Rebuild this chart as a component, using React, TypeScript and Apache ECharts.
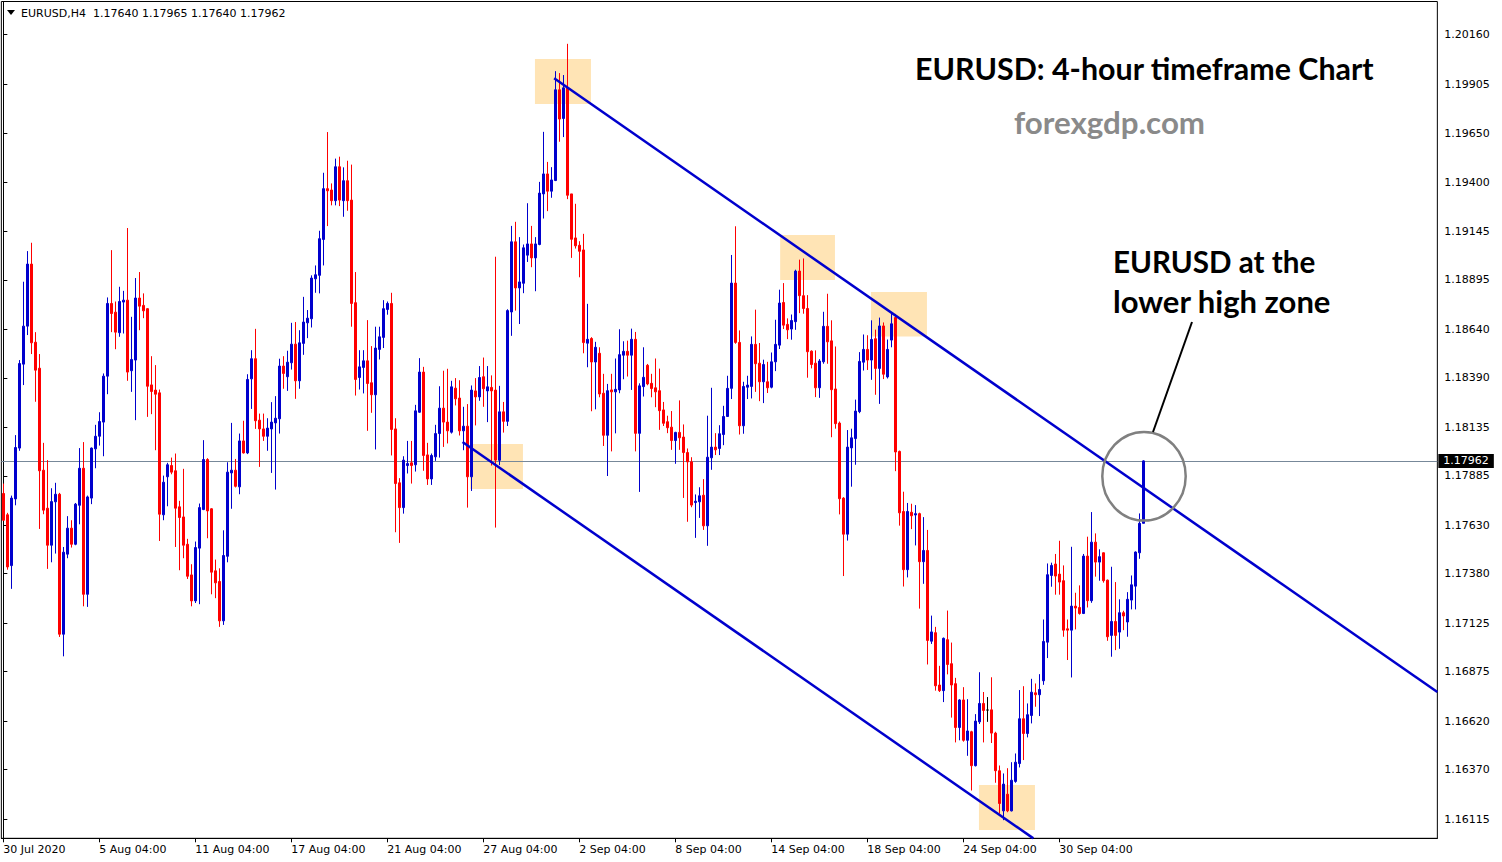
import React, { useEffect, useRef } from "react";
import * as echarts from "echarts";

// ---- OHLC values (EURUSD H4), one entry per bar ----
const opens = [
  1.17794, 1.17684, 1.17422, 1.17766, 1.18028, 1.18461, 1.18657, 1.18977, 1.18574, 1.1844,
  1.17914, 1.17718, 1.17527, 1.17751, 1.1779, 1.17068, 1.17481, 1.17615, 1.17532, 1.17733,
  1.17924, 1.17274, 1.1777, 1.18024, 1.18089, 1.18162, 1.18399, 1.18774, 1.18729, 1.18623,
  1.18781, 1.18791, 1.18427, 1.18482, 1.18802, 1.18764, 1.18747, 1.18354, 1.18327, 1.18313,
  1.17684, 1.1788, 1.17938, 1.17911, 1.17725, 1.17673, 1.17532, 1.17374, 1.1724, 1.17512,
  1.17711, 1.17969, 1.17715, 1.17395, 1.1734, 1.17137, 1.1747, 1.179, 1.17914, 1.17828,
  1.18065, 1.18003, 1.18385, 1.18489, 1.18172, 1.18127, 1.18089, 1.18127, 1.18158, 1.18179,
  1.18451, 1.18396, 1.18468, 1.18564, 1.18375, 1.18568, 1.18674, 1.18695, 1.18901, 1.18919,
  1.19104, 1.19366, 1.19359, 1.19304, 1.19479, 1.19304, 1.19407, 1.19307, 1.18778, 1.18392,
  1.18444, 1.18478, 1.18365, 1.18303, 1.18537, 1.18599, 1.18743, 1.18774, 1.18127, 1.17849,
  1.17721, 1.17938, 1.17952, 1.17942, 1.18213, 1.1842, 1.17993, 1.17869, 1.17983, 1.18103,
  1.18234, 1.18162, 1.1811, 1.18337, 1.18286, 1.18117, 1.18141, 1.1788, 1.18323, 1.18292,
  1.18396, 1.18323, 1.18341, 1.18327, 1.17965, 1.18215, 1.18166, 1.1873, 1.19092, 1.18854,
  1.18878, 1.19023, 1.19081, 1.19009, 1.19078, 1.19339, 1.19442, 1.19353, 1.19408, 1.19876,
  1.19728, 1.19886, 1.19339, 1.19112, 1.19074, 1.1905, 1.18569, 1.18593, 1.18472, 1.18517,
  1.18311, 1.18094, 1.18328, 1.18318, 1.18328, 1.18507, 1.18527, 1.18507, 1.18589, 1.18104,
  1.18345, 1.18455, 1.18362, 1.18339, 1.18324, 1.18225, 1.18164, 1.18136, 1.18067, 1.18109,
  1.18085, 1.18005, 1.17957, 1.17747, 1.17751, 1.17785, 1.17627, 1.17978, 1.18033, 1.18026,
  1.18098, 1.18191, 1.18336, 1.18879, 1.18573, 1.18143, 1.18342, 1.18346, 1.18563, 1.18466,
  1.1837, 1.1837, 1.18342, 1.18473, 1.18559, 1.18779, 1.18666, 1.18642, 1.1868, 1.18941,
  1.18814, 1.18748, 1.18528, 1.18466, 1.18339, 1.18473, 1.18656, 1.18581, 1.18333, 1.18157,
  1.1777, 1.17584, 1.18029, 1.18077, 1.18216, 1.18471, 1.18537, 1.18482, 1.18592, 1.18439,
  1.18658, 1.18395, 1.18585, 1.18701, 1.18011, 1.17701, 1.17401, 1.17697, 1.17683, 1.1769,
  1.17442, 1.175, 1.17032, 1.17076, 1.16806, 1.16777, 1.1704, 1.16916, 1.16813, 1.16587,
  1.16729, 1.16521, 1.16565, 1.1639, 1.16616, 1.16711, 1.16677, 1.16678, 1.16558, 1.16364,
  1.16157, 1.16243, 1.16157, 1.16309, 1.16401, 1.16632, 1.16556, 1.16649, 1.16766, 1.16756,
  1.16828, 1.17027, 1.17371, 1.1743, 1.17378, 1.17344, 1.17096, 1.17089, 1.17213, 1.17206,
  1.17175, 1.17471, 1.17241, 1.17543, 1.1744, 1.17488, 1.17347, 1.17062, 1.17134, 1.17079,
  1.17179, 1.17131, 1.17244, 1.17316, 1.17488, 1.1764,
];
const highs = [
  1.17845, 1.17694, 1.17783, 1.18095, 1.18482, 1.18886, 1.19044, 1.19087, 1.18626, 1.18513,
  1.18055, 1.17966, 1.17821, 1.17849, 1.17797, 1.17518, 1.17677, 1.17656, 1.17745, 1.18028,
  1.18059, 1.17783, 1.18031, 1.18148, 1.18213, 1.18413, 1.18805, 1.19049, 1.18784, 1.1886,
  1.18839, 1.19163, 1.18705, 1.18905, 1.18936, 1.18826, 1.1875, 1.18502, 1.18456, 1.1833,
  1.17886, 1.17952, 1.17979, 1.18, 1.17756, 1.17921, 1.1756, 1.17429, 1.17546, 1.17742,
  1.18069, 1.17976, 1.17718, 1.17453, 1.17408, 1.17604, 1.17955, 1.18158, 1.17972, 1.18103,
  1.18169, 1.18409, 1.18533, 1.18643, 1.18206, 1.18206, 1.18182, 1.18265, 1.18296, 1.18489,
  1.18502, 1.1853, 1.18674, 1.18678, 1.18636, 1.18808, 1.1874, 1.18919, 1.1897, 1.19149,
  1.19448, 1.19658, 1.19393, 1.19521, 1.19531, 1.19476, 1.1951, 1.1949, 1.18936, 1.18533,
  1.18533, 1.18688, 1.18554, 1.18654, 1.18654, 1.18791, 1.18784, 1.18829, 1.18182, 1.17873,
  1.17986, 1.18065, 1.18065, 1.18251, 1.18492, 1.18447, 1.18055, 1.18, 1.18148, 1.18347,
  1.18427, 1.18437, 1.18375, 1.18389, 1.18378, 1.18241, 1.18255, 1.18351, 1.18389, 1.18451,
  1.18495, 1.18451, 1.18403, 1.19015, 1.18349, 1.18266, 1.18744, 1.19174, 1.19195, 1.19116,
  1.19078, 1.19291, 1.19174, 1.19116, 1.19401, 1.19659, 1.19504, 1.19477, 1.19972, 1.19962,
  1.19952, 1.20113, 1.19339, 1.19288, 1.19095, 1.19133, 1.18772, 1.186, 1.18576, 1.18548,
  1.18411, 1.18359, 1.18411, 1.1849, 1.18641, 1.18579, 1.18582, 1.18644, 1.18627, 1.18362,
  1.18548, 1.18462, 1.18411, 1.1849, 1.18438, 1.18266, 1.18195, 1.18219, 1.18112, 1.18274,
  1.1815, 1.18026, 1.17981, 1.17789, 1.17826, 1.17868, 1.18195, 1.18339, 1.18105, 1.18146,
  1.18246, 1.18401, 1.19024, 1.19172, 1.18635, 1.1837, 1.18401, 1.18604, 1.18742, 1.1857,
  1.18484, 1.18473, 1.18521, 1.1869, 1.18845, 1.18879, 1.18697, 1.18717, 1.18948, 1.19,
  1.19006, 1.18817, 1.18532, 1.18532, 1.18487, 1.18731, 1.18824, 1.18687, 1.18552, 1.18165,
  1.17775, 1.18121, 1.18128, 1.18278, 1.18523, 1.18614, 1.1861, 1.18687, 1.18639, 1.18701,
  1.18676, 1.18588, 1.18723, 1.1872, 1.18015, 1.17803, 1.17745, 1.17741, 1.17734, 1.17695,
  1.17672, 1.17606, 1.17164, 1.17106, 1.16905, 1.17051, 1.1719, 1.17025, 1.16843, 1.16733,
  1.16795, 1.16733, 1.1657, 1.16656, 1.16872, 1.1677, 1.16744, 1.16846, 1.16565, 1.16391,
  1.1635, 1.16377, 1.16408, 1.16453, 1.1678, 1.168, 1.16711, 1.16838, 1.16814, 1.16862,
  1.17144, 1.17433, 1.17437, 1.17482, 1.1755, 1.17423, 1.17144, 1.17519, 1.17282, 1.1732,
  1.17482, 1.17571, 1.17698, 1.17588, 1.17506, 1.1749, 1.1735, 1.17416, 1.17337, 1.17248,
  1.17189, 1.17285, 1.17371, 1.17495, 1.17691, 1.17965,
];
const lows = [
  1.17653, 1.17401, 1.17302, 1.17733, 1.18014, 1.18353, 1.18611, 1.18513, 1.18267, 1.17611,
  1.17687, 1.17405, 1.17439, 1.17484, 1.17054, 1.16954, 1.1746, 1.17515, 1.17527, 1.17635,
  1.17212, 1.17209, 1.17739, 1.17924, 1.18041, 1.17986, 1.18306, 1.18626, 1.18538, 1.18602,
  1.18619, 1.18375, 1.18318, 1.18172, 1.18636, 1.18698, 1.18189, 1.18203, 1.18017, 1.17549,
  1.17656, 1.17728, 1.17893, 1.17518, 1.17398, 1.1746, 1.17353, 1.17212, 1.17229, 1.17223,
  1.17708, 1.17563, 1.17274, 1.17254, 1.17106, 1.17116, 1.17439, 1.17715, 1.17825, 1.1779,
  1.18, 1.17997, 1.1823, 1.18127, 1.17931, 1.18065, 1.18014, 1.179, 1.17814, 1.18103,
  1.18334, 1.18323, 1.18433, 1.18282, 1.18334, 1.18509, 1.18595, 1.1865, 1.18829, 1.18826,
  1.1897, 1.19173, 1.1928, 1.1928, 1.19276, 1.19221, 1.19252, 1.18654, 1.18299, 1.1833,
  1.1831, 1.18117, 1.1821, 1.18021, 1.18485, 1.18544, 1.18716, 1.1799, 1.17594, 1.17539,
  1.1769, 1.17897, 1.17845, 1.17907, 1.1821, 1.17911, 1.17838, 1.17838, 1.17962, 1.17979,
  1.18034, 1.18052, 1.18103, 1.18248, 1.18093, 1.18017, 1.17721, 1.17807, 1.18145, 1.18272,
  1.18241, 1.18162, 1.17938, 1.17618, 1.1794, 1.18108, 1.18142, 1.18607, 1.18737, 1.18668,
  1.18827, 1.18988, 1.18961, 1.18837, 1.19074, 1.19212, 1.1925, 1.19319, 1.19405, 1.19608,
  1.19632, 1.19312, 1.19009, 1.19057, 1.18909, 1.18517, 1.18445, 1.18218, 1.18228, 1.1829,
  1.18039, 1.17884, 1.18011, 1.18104, 1.18311, 1.18383, 1.18397, 1.18328, 1.18011, 1.17802,
  1.18294, 1.18352, 1.1829, 1.18239, 1.18122, 1.18142, 1.18105, 1.18019, 1.17947, 1.18019,
  1.17771, 1.17648, 1.17723, 1.17565, 1.17668, 1.17606, 1.17524, 1.17916, 1.17992, 1.17992,
  1.18043, 1.18191, 1.18281, 1.18566, 1.18098, 1.18102, 1.18281, 1.18284, 1.18318, 1.1827,
  1.1826, 1.18312, 1.18336, 1.18425, 1.18539, 1.18642, 1.1859, 1.18587, 1.18638, 1.18724,
  1.18721, 1.18391, 1.18439, 1.18291, 1.18287, 1.18463, 1.18463, 1.18084, 1.18128, 1.17686,
  1.17368, 1.17551, 1.17829, 1.17942, 1.18208, 1.18428, 1.18431, 1.1838, 1.18303, 1.18256,
  1.18384, 1.18387, 1.18548, 1.17909, 1.17628, 1.17314, 1.17361, 1.1761, 1.17526, 1.172,
  1.17328, 1.16912, 1.17018, 1.16777, 1.1677, 1.16718, 1.16861, 1.16638, 1.1651, 1.16521,
  1.16514, 1.16441, 1.16262, 1.16386, 1.16605, 1.1651, 1.16616, 1.16507, 1.16302, 1.16143,
  1.16109, 1.1615, 1.16154, 1.16302, 1.16381, 1.16419, 1.16536, 1.16608, 1.16694, 1.16646,
  1.16807, 1.16945, 1.17313, 1.17272, 1.17272, 1.17055, 1.16935, 1.16845, 1.17093, 1.17169,
  1.17172, 1.17206, 1.1723, 1.17365, 1.17344, 1.17334, 1.17034, 1.16952, 1.16986, 1.16993,
  1.17089, 1.17055, 1.17196, 1.17196, 1.17457, 1.1764,
];
const closes = [
  1.17656, 1.17415, 1.1777, 1.18031, 1.18464, 1.18657, 1.18977, 1.18571, 1.1843, 1.17911,
  1.17708, 1.17527, 1.17752, 1.1779, 1.17068, 1.17491, 1.17615, 1.17532, 1.17739, 1.17924,
  1.17274, 1.17776, 1.18028, 1.18089, 1.18165, 1.18399, 1.18774, 1.18722, 1.18626, 1.18784,
  1.18791, 1.1842, 1.18485, 1.18802, 1.1876, 1.18736, 1.18347, 1.1832, 1.18306, 1.17687,
  1.17852, 1.17942, 1.17904, 1.17718, 1.1767, 1.17527, 1.17367, 1.1724, 1.17515, 1.17721,
  1.17969, 1.17704, 1.17388, 1.17333, 1.17137, 1.17474, 1.17904, 1.17914, 1.17831, 1.18065,
  1.18003, 1.18382, 1.18489, 1.18169, 1.18127, 1.18089, 1.18131, 1.18162, 1.18182, 1.18451,
  1.18413, 1.18471, 1.18564, 1.18375, 1.18571, 1.18678, 1.18698, 1.18905, 1.18922, 1.19108,
  1.19366, 1.19355, 1.19304, 1.19479, 1.19307, 1.19407, 1.19304, 1.18774, 1.18382, 1.18447,
  1.18478, 1.18361, 1.18303, 1.18544, 1.18602, 1.18747, 1.18774, 1.18124, 1.17845, 1.17721,
  1.17966, 1.17948, 1.17938, 1.1822, 1.1842, 1.1799, 1.17869, 1.1799, 1.18103, 1.18234,
  1.18162, 1.18117, 1.18344, 1.18282, 1.18117, 1.18141, 1.1788, 1.18327, 1.18292, 1.18392,
  1.18334, 1.18344, 1.18323, 1.17966, 1.18215, 1.18166, 1.18737, 1.19092, 1.18854, 1.18885,
  1.19061, 1.19081, 1.19009, 1.19081, 1.19343, 1.19442, 1.19353, 1.19411, 1.19876, 1.19725,
  1.19886, 1.19332, 1.19105, 1.19071, 1.19043, 1.18572, 1.18589, 1.18472, 1.18548, 1.18307,
  1.18094, 1.18324, 1.18318, 1.18331, 1.1851, 1.18527, 1.18507, 1.18589, 1.18104, 1.18349,
  1.18393, 1.18359, 1.18335, 1.18318, 1.18221, 1.18156, 1.18133, 1.18067, 1.18109, 1.18081,
  1.18005, 1.17957, 1.17734, 1.17754, 1.17782, 1.17627, 1.17981, 1.18033, 1.18019, 1.18102,
  1.18191, 1.18336, 1.18879, 1.18573, 1.18143, 1.18346, 1.18353, 1.18563, 1.18463, 1.1837,
  1.18459, 1.18339, 1.18473, 1.18563, 1.18776, 1.18662, 1.18638, 1.18686, 1.18941, 1.18814,
  1.18748, 1.18525, 1.18459, 1.18339, 1.18477, 1.18656, 1.18576, 1.18329, 1.18154, 1.17767,
  1.17584, 1.18033, 1.18081, 1.18219, 1.18475, 1.18537, 1.18482, 1.18588, 1.18439, 1.18658,
  1.18409, 1.18537, 1.18669, 1.18008, 1.17694, 1.17401, 1.17701, 1.17679, 1.1769, 1.17442,
  1.175, 1.17036, 1.1708, 1.16802, 1.16777, 1.17047, 1.16912, 1.16806, 1.16587, 1.16729,
  1.16521, 1.16569, 1.1639, 1.1662, 1.16711, 1.16675, 1.16677, 1.16558, 1.16364, 1.16195,
  1.16295, 1.16157, 1.16315, 1.16408, 1.16632, 1.16556, 1.16653, 1.16769, 1.16756, 1.16783,
  1.17031, 1.17375, 1.17423, 1.17368, 1.17337, 1.17089, 1.17089, 1.17213, 1.17203, 1.17175,
  1.17471, 1.17241, 1.17543, 1.1744, 1.17468, 1.17344, 1.17055, 1.17134, 1.17062, 1.17179,
  1.17162, 1.17248, 1.17323, 1.17492, 1.1764, 1.17962,
];

// ---- axes ----
const TOTAL_SLOTS = 359; // bars + empty space on the right
const LABEL_STEP = 24;
const xTickLabels = [
  "30 Jul 2020", "5 Aug 04:00", "11 Aug 04:00", "17 Aug 04:00", "21 Aug 04:00", "27 Aug 04:00",
  "2 Sep 04:00", "8 Sep 04:00", "14 Sep 04:00", "18 Sep 04:00", "24 Sep 04:00", "30 Sep 04:00",
];
const yTickValues = [
  1.16115, 1.1637, 1.1662, 1.16875, 1.17125, 1.1738, 1.1763, 1.17885, 1.18135,
  1.1839, 1.1864, 1.18895, 1.19145, 1.194, 1.1965, 1.19905, 1.2016,
];

// ---- annotations (bar index, price) ----
const upperTrend = [[137.7, 1.19935], [358.5, 1.1677]];
const lowerTrend = [[114.8, 1.18059], [257.5, 1.16015]];
const zones = [
  [132.9, 1.20035, 146.9, 1.19803],
  [194.2, 1.19127, 207.9, 1.18895],
  [216.9, 1.18833, 230.9, 1.18603],
  [116.7, 1.18049, 129.9, 1.17817],
  [243.9, 1.1629, 257.9, 1.16058],
];

function pad(n: number) {
  return n < 10 ? "0" + n : "" + n;
}
function buildCategories(n: number): string[] {
  const out: string[] = [];
  let t = Date.UTC(2020, 6, 30, 4, 0);
  while (out.length < n) {
    const d = new Date(t);
    const wd = d.getUTCDay();
    if (wd !== 0 && wd !== 6) {
      out.push(`${d.getUTCFullYear()}.${pad(d.getUTCMonth() + 1)}.${pad(d.getUTCDate())} ${pad(d.getUTCHours())}:00`);
    }
    t += 4 * 3600 * 1000;
  }
  return out;
}

const FONT = "DejaVu Sans";
const TITLE_FONT = "Lato";

export default function App() {
  const ref = useRef<HTMLDivElement>(null);
  useEffect(() => {
    if (!ref.current) return;
    const chart = echarts.init(ref.current, undefined, { renderer: "svg" });
    const categories = buildCategories(TOTAL_SLOTS);
    const candles = opens.map((o, i) => [o, closes[i], lows[i], highs[i]]);
    const last = opens.length - 1;
    const lastClose = closes[last];
    const showTick = (idx: number) => idx % LABEL_STEP === 0 && idx / LABEL_STEP < xTickLabels.length;

    const option: any = {
      animation: false,
      backgroundColor: "#ffffff",
      grid: {
        left: 1.35,
        top: 1.5,
        width: 1436,
        height: 836.8,
        show: true,
        borderColor: "#000",
        borderWidth: 1,
        backgroundColor: "transparent",
        containLabel: false,
        outerBoundsMode: "none",
      },
      xAxis: [
        {
          type: "category",
          data: categories,
          boundaryGap: true,
          axisLine: { show: true, lineStyle: { color: "#000", width: 1 } },
          axisTick: { show: true, alignWithLabel: true, interval: (idx: number) => showTick(idx), length: 4, lineStyle: { color: "#000" } },
          axisLabel: {
            interval: (idx: number) => showTick(idx),
            formatter: (_v: string, idx: number) => xTickLabels[Math.round(idx / LABEL_STEP)] || "",
            align: "left",
            margin: 6,
            color: "#000",
            fontFamily: FONT,
            fontSize: 11,
          },
          splitLine: { show: false },
        },
        {
          type: "value",
          min: -0.5,
          max: TOTAL_SLOTS - 0.5,
          show: false,
          splitLine: { show: false },
        },
      ],
      yAxis: {
        type: "value",
        position: "right",
        min: 1.160155,
        max: 1.203313,
        splitLine: { show: false },
        axisLine: { show: true, lineStyle: { color: "#000", width: 1 } },
        axisTick: { show: true, length: 4, lineStyle: { color: "#000" }, customValues: yTickValues },
        axisLabel: {
          customValues: yTickValues,
          formatter: (v: number) => v.toFixed(5),
          margin: 7,
          color: "#000",
          fontFamily: FONT,
          fontSize: 11,
        },
      },
      series: [
        {
          type: "line",
          xAxisIndex: 1,
          data: [],
          silent: true,
          markArea: {
            silent: true,
            itemStyle: { color: "#FFE4B5" },
            data: zones.map((z) => [{ coord: [z[0], z[1]] }, { coord: [z[2], z[3]] }]),
          },
          markLine: {
            silent: true,
            symbol: ["none", "none"],
            z: 2,
            precision: 5,
            lineStyle: { color: "#778899", width: 1, type: "solid" },
            label: {
              position: "end",
              formatter: lastClose.toFixed(5),
              backgroundColor: "#000",
              color: "#fff",
              fontFamily: FONT,
              fontSize: 11,
              padding: [2, 5, 1, 5],
              distance: 1,
            },
            data: [[{ coord: [-0.5, lastClose] }, { coord: [TOTAL_SLOTS - 0.5, lastClose] }]],
          },
        },
        {
          type: "candlestick",
          xAxisIndex: 0,
          data: candles,
          barWidth: 2,
          z: 3,
          itemStyle: {
            color: "#0000CD",
            color0: "#FF0000",
            borderColor: "#0000CD",
            borderColor0: "#FF0000",
            borderColorDoji: "#000000",
            borderWidth: 1,
          },
        },
        {
          type: "line",
          xAxisIndex: 1,
          data: upperTrend,
          symbol: "none",
          silent: true,
          z: 4,
          lineStyle: { color: "#0000CD", width: 2.5 },
        },
        {
          type: "line",
          xAxisIndex: 1,
          data: lowerTrend,
          symbol: "none",
          silent: true,
          z: 4,
          lineStyle: { color: "#0000CD", width: 2.5 },
        },
      ],
      graphic: [
        { type: "polygon", shape: { points: [[7, 10], [15, 10], [11, 15]] }, style: { fill: "#000" } },
        { type: "text", x: 21, y: 13, style: { text: "EURUSD,H4", fontFamily: FONT, fontSize: 11, fill: "#000", verticalAlign: "middle" } },
        {
          type: "text",
          x: 93,
          y: 13,
          style: {
            text: [opens[last], highs[last], lows[last], closes[last]].map((v) => v.toFixed(5)).join(" "),
            fontFamily: FONT,
            fontSize: 11,
            fill: "#000",
            verticalAlign: "middle",
          },
        },
        { type: "text", x: 915, y: 68, style: { text: "EURUSD: 4-hour timeframe Chart", fontFamily: TITLE_FONT, fontWeight: "bold", fontSize: 30.4, fill: "#000", verticalAlign: "middle" } },
        { type: "text", x: 1014, y: 122, style: { text: "forexgdp.com", fontFamily: TITLE_FONT, fontWeight: "bold", fontSize: 31.3, fill: "#8A8A8A", verticalAlign: "middle" } },
        { type: "text", x: 1113, y: 261, style: { text: "EURUSD at the", fontFamily: TITLE_FONT, fontWeight: "bold", fontSize: 29.6, fill: "#000", verticalAlign: "middle" } },
        { type: "text", x: 1113, y: 301, style: { text: "lower high zone", fontFamily: TITLE_FONT, fontWeight: "bold", fontSize: 31, fill: "#000", verticalAlign: "middle" } },
        { type: "ellipse", shape: { cx: 1144, cy: 476.3, rx: 41.7, ry: 44.3 }, style: { fill: "none", stroke: "#808080", lineWidth: 2.5 }, z: 10 },
        { type: "line", shape: { x1: 1153, y1: 432, x2: 1192, y2: 322 }, style: { stroke: "#000", lineWidth: 2 }, z: 10 },
      ],
    };
    chart.setOption(option);
    return () => chart.dispose();
  }, []);
  return <div ref={ref} style={{ position: "fixed", left: 0, top: 0, width: 1502, height: 862 }} />;
}
